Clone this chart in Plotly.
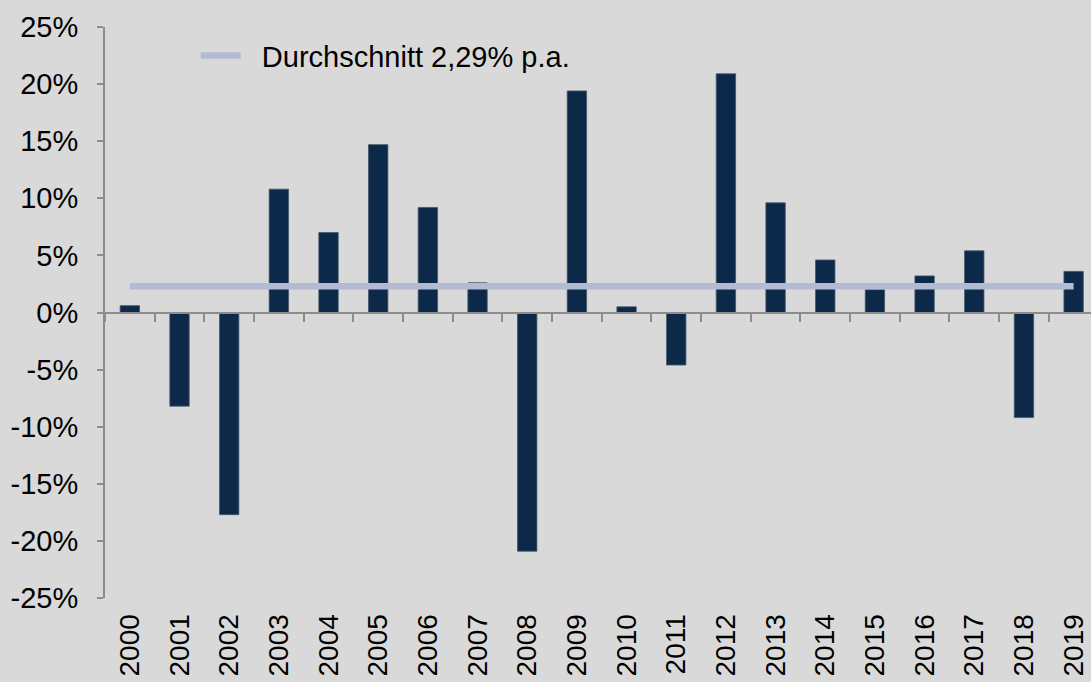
import plotly.graph_objects as go

years = [str(y) for y in range(2000, 2020)]
returns = [0.6, -8.2, -17.7, 10.8, 7.0, 14.7, 9.2, 2.6, -20.9, 19.4,
           0.5, -4.6, 20.9, 9.6, 4.6, 2.0, 3.2, 5.4, -9.2, 3.6]
average = 2.29
avg_label = "Durchschnitt 2,29% p.a."
y_ticks = [-25, -20, -15, -10, -5, 0, 5, 10, 15, 20, 25]
y_ticktext = [f"{v}%" for v in y_ticks]

BG = "#d9d9d9"
BAR = "#0c2949"
AVG = "#b3bad4"
AXIS = "#8c8c8c"
FONT = "Liberation Sans, Arial, sans-serif"

fig = go.Figure()
fig.add_trace(go.Bar(
    x=years, y=returns, marker=dict(color=BAR, line=dict(color="#44556b", width=0.8)),
    showlegend=False, xaxis="x", yaxis="y"))
fig.add_trace(go.Scatter(
    x=years, y=[average] * len(years), mode="lines",
    line=dict(color=AVG, width=6.5), name="\u00a0\u00a0" + avg_label,
    xaxis="x2", yaxis="y"))

xr = [-0.5, 19.35]
fig.update_layout(
    width=1091, height=682,
    paper_bgcolor=BG, plot_bgcolor=BG,
    margin=dict(l=105, r=0, t=27, b=84),
    font=dict(family=FONT, size=28, color="black"),
    bargap=0.61,
    xaxis=dict(type="category", categoryorder="array", categoryarray=years,
               range=xr, showline=False, showgrid=False, zeroline=False,
               ticks="outside", ticklen=4, tickcolor="rgba(0,0,0,0)",
               tickangle=-90, tickfont=dict(size=28)),
    xaxis2=dict(type="category", categoryorder="array", categoryarray=years,
                range=xr, overlaying="x", anchor="free", position=0.5,
                showline=True, linecolor=AXIS, linewidth=2,
                ticks="outside", tickson="boundaries", ticklen=8,
                tickcolor=AXIS, tickwidth=2, showticklabels=False,
                showgrid=False, zeroline=False),
    yaxis=dict(range=[-25, 25], tickvals=y_ticks, ticktext=y_ticktext,
               showline=True, linecolor=AXIS, linewidth=2,
               ticks="outside", ticklen=6, tickcolor=AXIS, tickwidth=2,
               showgrid=False, zeroline=False, ticklabelstandoff=13,
               tickfont=dict(size=29)),
    legend=dict(x=0.092, y=0.95, xanchor="left", yanchor="middle",
                itemwidth=40,
                bgcolor="rgba(0,0,0,0)", font=dict(size=29)),
)

fig.write_html("out.html", config={"displayModeBar": False},
               post_script="document.body.style.margin='0';document.body.style.padding='0';")
